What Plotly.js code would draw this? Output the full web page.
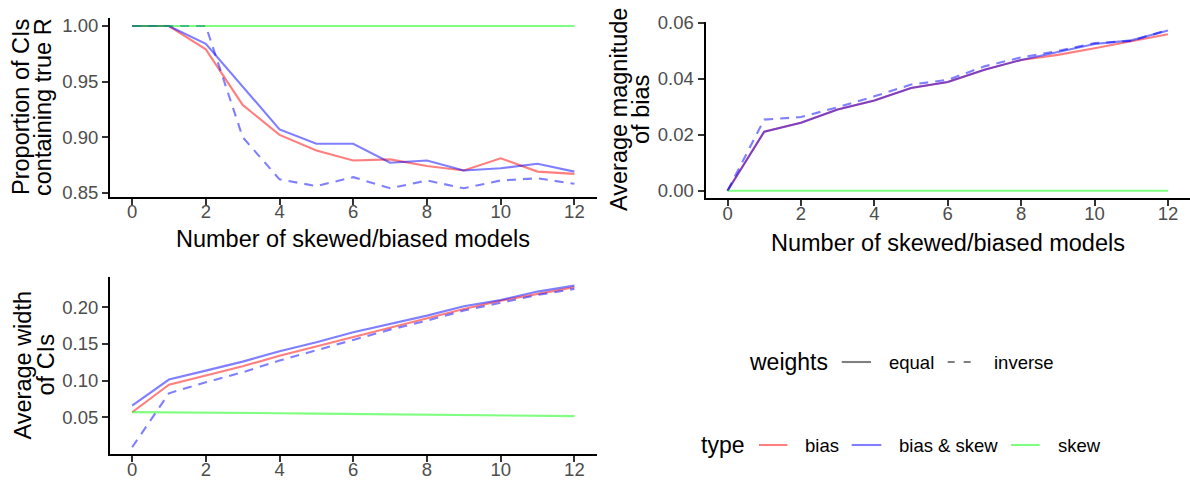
<!DOCTYPE html>
<html>
<head>
<meta charset="utf-8">
<script src="https://cdn.plot.ly/plotly-3.0.1.min.js"></script>
<style>html,body{margin:0;padding:0;background:#fff;}#chart{width:1190px;height:483px;}</style>
</head>
<body>
<div id="chart"></div>
<script>
// ---- data ----
const nModels = [0,1,2,3,4,5,6,7,8,9,10,11,12];
const xTicks = [0,2,4,6,8,10,12];

// Proportion of CIs containing true R
const propBiasEqual     = [1.000,1.000,0.979,0.929,0.902,0.888,0.879,0.880,0.874,0.870,0.881,0.869,0.867];
const propBiasSkewEqual = [1.000,1.000,0.984,0.945,0.907,0.894,0.894,0.877,0.879,0.870,0.872,0.876,0.869];
const propBiasSkewInv   = [1.000,1.000,1.000,0.900,0.862,0.856,0.864,0.854,0.861,0.854,0.861,0.863,0.858];
const propSkewEqual     = [1,1,1,1,1,1,1,1,1,1,1,1,1];

// Average magnitude of bias
const biasBiasEqual     = [0,0.0211,0.0243,0.0290,0.0322,0.0367,0.0388,0.0432,0.0467,0.0485,0.0509,0.0533,0.0559];
const biasBiasSkewEqual = [0,0.0211,0.0243,0.0290,0.0322,0.0367,0.0388,0.0432,0.0467,0.0495,0.0524,0.0537,0.0572];
const biasBiasSkewInv   = [0,0.0254,0.0263,0.0298,0.0337,0.0379,0.0396,0.0444,0.0476,0.0499,0.0527,0.0535,0.0574];
const biasSkewEqual     = [0,0,0,0,0,0,0,0,0,0,0,0,0];

// Average width of CIs
const widthBiasEqual     = [0.0568,0.0945,0.1070,0.1195,0.1340,0.1468,0.1600,0.1727,0.1855,0.1977,0.2090,0.2180,0.2273];
const widthBiasSkewEqual = [0.0659,0.1014,0.1136,0.1259,0.1400,0.1523,0.1660,0.1770,0.1886,0.2014,0.2100,0.2214,0.2295];
const widthBiasSkewInv   = [0.0091,0.0827,0.0977,0.1114,0.1273,0.1418,0.1555,0.1695,0.1818,0.1955,0.2060,0.2168,0.2250];
const widthSkewEqual     = [0.0570,0.0568,0.0565,0.0560,0.0555,0.0550,0.0545,0.0542,0.0540,0.0533,0.0524,0.0520,0.0515];

const typeLabels = ['bias','bias & skew','skew'];
const weightLabels = ['equal','inverse'];
const panelTitles = [['Proportion of CIs','containing true R'],['Average magnitude','of bias'],['Average width','of CIs']];
const xTitle = 'Number of skewed/biased models';

// ---- styles ----
const typeColors = ['rgba(255,0,0,0.5)','rgba(0,0,255,0.5)','rgba(0,255,0,0.5)'];
const dashStyle = ['solid','9px,7px'];
const LW = 2.1;
const FONT = 'Liberation Sans, Arial, sans-serif';
const W = 1190, H = 483;
const px = v => v / W;
const py = v => 1 - v / H;

function tr(x, y, typeIdx, wIdx, ax) {
  return {x: x, y: y, type: 'scatter', mode: 'lines', xaxis: 'x' + ax, yaxis: 'y' + ax,
    line: {color: typeColors[typeIdx], width: LW, dash: dashStyle[wIdx]}, showlegend: false, hoverinfo: 'skip'};
}

const traces = [
  tr(nModels, propBiasEqual, 0, 0, ''),
  tr(nModels, propBiasSkewEqual, 1, 0, ''),
  tr(nModels, propBiasSkewInv, 1, 1, ''),
  tr(nModels, propSkewEqual, 2, 0, ''),
  tr(nModels, biasBiasEqual, 0, 0, '2'),
  tr(nModels, biasBiasSkewEqual, 1, 0, '2'),
  tr(nModels, biasBiasSkewInv, 1, 1, '2'),
  tr(nModels, biasSkewEqual, 2, 0, '2'),
  tr(nModels, widthBiasEqual, 0, 0, '3'),
  tr(nModels, widthBiasSkewEqual, 1, 0, '3'),
  tr(nModels, widthBiasSkewInv, 1, 1, '3'),
  tr(nModels, widthSkewEqual, 2, 0, '3')
];

const tickFont = {family: FONT, size: 18.5, color: '#4D4D4D'};
function xa(domain, anchor) {
  return {domain: domain, anchor: anchor, range: [-0.6, 12.6], tickvals: xTicks, ticktext: xTicks.map(String),
    showline: true, linecolor: '#000', linewidth: 2, ticks: 'outside', ticklen: 6, tickwidth: 2, tickcolor: '#333',
    ticklabelstandoff: -9,
    showgrid: false, zeroline: false, tickfont: tickFont, fixedrange: true};
}
function ya(domain, anchor, range, tv, tt) {
  return {domain: domain, anchor: anchor, range: range, tickvals: tv, ticktext: tt,
    showline: true, linecolor: '#000', linewidth: 2, ticks: 'outside', ticklen: 6, tickwidth: 2, tickcolor: '#333',
    showgrid: false, zeroline: false, tickfont: tickFont, fixedrange: true};
}

const propTicks = [0.85,0.90,0.95,1.00];
const biasTicks = [0.00,0.02,0.04,0.06];
const widthTicks = [0.05,0.10,0.15,0.20];

const layout = {
  width: W, height: H, margin: {l: 0, r: 0, t: 0, b: 0},
  paper_bgcolor: '#fff', plot_bgcolor: 'rgba(0,0,0,0)', showlegend: false,
  xaxis:  xa([px(110), px(596.5)], 'y'),
  yaxis:  ya([py(196.5), py(18)], 'x', [0.8466, 1.0072], propTicks, propTicks.map(v => v.toFixed(2))),
  xaxis2: xa([px(705.5), px(1190)], 'y2'),
  yaxis2: ya([py(198.3), py(22)], 'x2', [-0.00271, 0.06025], biasTicks, biasTicks.map(v => v.toFixed(2))),
  xaxis3: xa([px(110), px(596.5)], 'y3'),
  yaxis3: ya([py(454.3), py(276.7)], 'x3', [-0.0005, 0.2417], widthTicks, widthTicks.map(v => v.toFixed(2))),
  annotations: [],
  shapes: []
};

function txt(text, x, y, size, opts) {
  return Object.assign({text: text, xref: 'paper', yref: 'paper', x: px(x), y: py(y), showarrow: false,
    font: {family: FONT, size: size, color: '#000'}, xanchor: 'center', yanchor: 'middle'}, opts || {});
}
// x-axis titles
layout.annotations.push(txt(xTitle, 353, 239, 23.5));
layout.annotations.push(txt(xTitle, 948, 242.5, 23.5));
// y-axis titles (two lines each)
const yTitlePos = [[21, 43, 107], [619, 641, 110], [22, 45, 365.5]];
panelTitles.forEach((lines, i) => {
  layout.annotations.push(txt(lines[0], yTitlePos[i][0], yTitlePos[i][2], 23.5, {textangle: -90}));
  layout.annotations.push(txt(lines[1], yTitlePos[i][1], yTitlePos[i][2], 23.5, {textangle: -90}));
});

// legend: weights
layout.annotations.push(txt('weights', 746.7, 362, 23, {xanchor: 'left'}));
const wKeyX = [[841.7, 871], [947.7, 971.7]];
const wLabX = [886.7, 991.7];
weightLabels.forEach((lab, i) => {
  layout.shapes.push({type: 'line', xref: 'paper', yref: 'paper', x0: px(wKeyX[i][0]), x1: px(wKeyX[i][1]), y0: py(362), y1: py(362),
    line: {color: 'rgba(0,0,0,0.5)', width: LW, dash: i === 0 ? 'solid' : '7px,9px'}});
  layout.annotations.push(txt(lab, wLabX[i], 362, 18.5, {xanchor: 'left'}));
});
// legend: type
layout.annotations.push(txt('type', 699, 445, 23, {xanchor: 'left'}));
const tKeyX = [[759, 787.3], [851.7, 881.3], [1011, 1039.7]];
const tLabX = [803.3, 897.3, 1055.7];
typeLabels.forEach((lab, i) => {
  layout.shapes.push({type: 'line', xref: 'paper', yref: 'paper', x0: px(tKeyX[i][0]), x1: px(tKeyX[i][1]), y0: py(445), y1: py(445),
    line: {color: typeColors[i], width: LW}});
  layout.annotations.push(txt(lab, tLabX[i], 445, 18.5, {xanchor: 'left'}));
});

Plotly.newPlot('chart', traces, layout, {staticPlot: true, displayModeBar: false});
</script>
</body>
</html>
